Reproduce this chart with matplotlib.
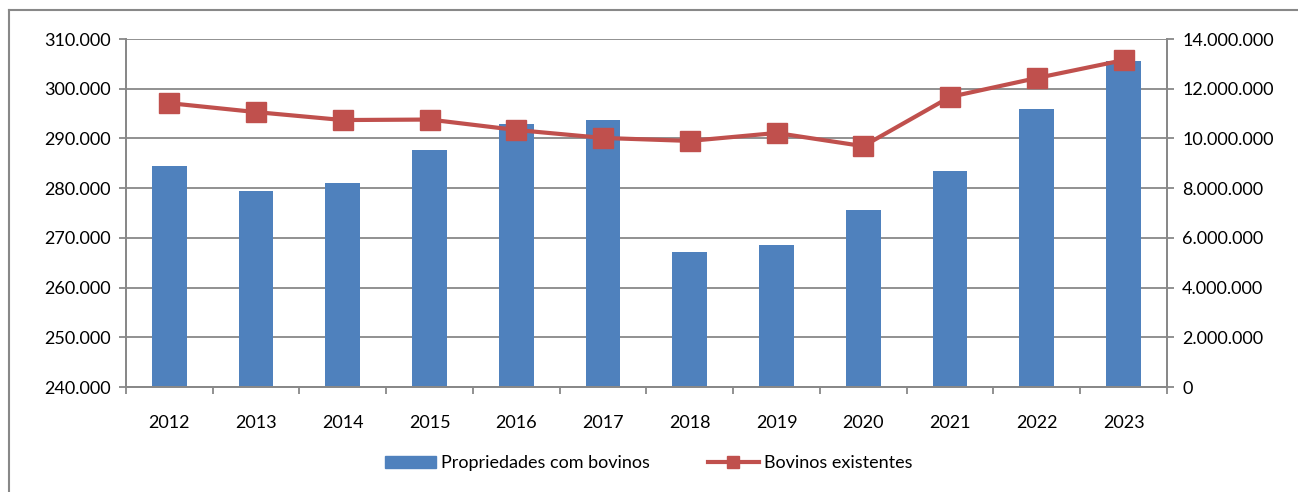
import numpy as np
import matplotlib.pyplot as plt
from matplotlib.ticker import FuncFormatter
from matplotlib.lines import Line2D

anos = ['2012', '2013', '2014', '2015', '2016', '2017',
        '2018', '2019', '2020', '2021', '2022', '2023']
propriedades = [284500, 279400, 281100, 287700, 292900, 293700,
                267200, 268600, 275600, 283500, 295900, 305600]
bovinos = [11420000, 11060000, 10740000, 10760000, 10340000, 10020000,
           9900000, 10220000, 9690000, 11670000, 12430000, 13150000]

plt.rcParams['font.family'] = ['Lato', 'DejaVu Sans']
plt.rcParams['font.size'] = 13

fig = plt.figure(figsize=(12.98, 4.92), dpi=100)
ax = fig.add_axes([0.097, 0.2134, 0.802, 0.7073])
ax2 = ax.twinx()

grid_c = '#888888'
x = np.arange(len(anos))

ax.bar(x, propriedades, width=0.4, color='#4F81BD', zorder=2,
       label='Propriedades com bovinos')
ax.set_ylim(240000, 310000)
ax.set_yticks(np.arange(240000, 310001, 10000))
ax.set_xlim(-0.5, len(anos) - 0.5)
ax.set_xticks(x)
ax.set_xticklabels(anos)
ax.set_xticks(np.arange(-0.5, len(anos)), minor=True)
ax.tick_params(axis='x', which='major', length=0, pad=20)
ax.tick_params(axis='x', which='minor', length=5, color=grid_c, width=1.3)
ax.tick_params(axis='y', length=5, color=grid_c, width=1.3, pad=6)
ax.grid(axis='y', color=grid_c, linewidth=1.3, zorder=0)
ax.set_axisbelow(True)

ax2.plot(x, bovinos, color='#C0504D', linewidth=3, marker='s',
         markersize=14, markerfacecolor='#C0504D', markeredgecolor='#C0504D',
         label='Bovinos existentes')
ax2.set_ylim(0, 14000000)
ax2.set_yticks(np.arange(0, 14000001, 2000000))
ax2.tick_params(axis='y', length=5, color=grid_c, width=1.3, pad=6)

fmt = FuncFormatter(lambda v, p: f'{int(v):,}'.replace(',', '.'))
ax.yaxis.set_major_formatter(fmt)
ax2.yaxis.set_major_formatter(fmt)

for a in (ax, ax2):
    a.spines['top'].set_visible(False)
    for s in ('left', 'right', 'bottom'):
        a.spines[s].set_color(grid_c)
        a.spines[s].set_linewidth(1.3)

handles = [plt.Rectangle((0, 0), 1, 1, color='#4F81BD'),
           Line2D([], [], color='#C0504D', linewidth=3, marker='s',
                  markersize=9)]
fig.legend(handles, ['Propriedades com bovinos', 'Bovinos existentes'],
           loc='center', bbox_to_anchor=(0.5, 0.058), ncol=2, frameon=False,
           handlelength=2.8, columnspacing=3.2, handletextpad=0.3)

# borda do grafico (so esquerda e topo aparecem)
fig.add_artist(Line2D([0.007, 0.007], [0, 0.98], color=grid_c, linewidth=1.5))
fig.add_artist(Line2D([0.007, 1], [0.98, 0.98], color=grid_c, linewidth=1.5))

fig.savefig('out.png', dpi=100)
